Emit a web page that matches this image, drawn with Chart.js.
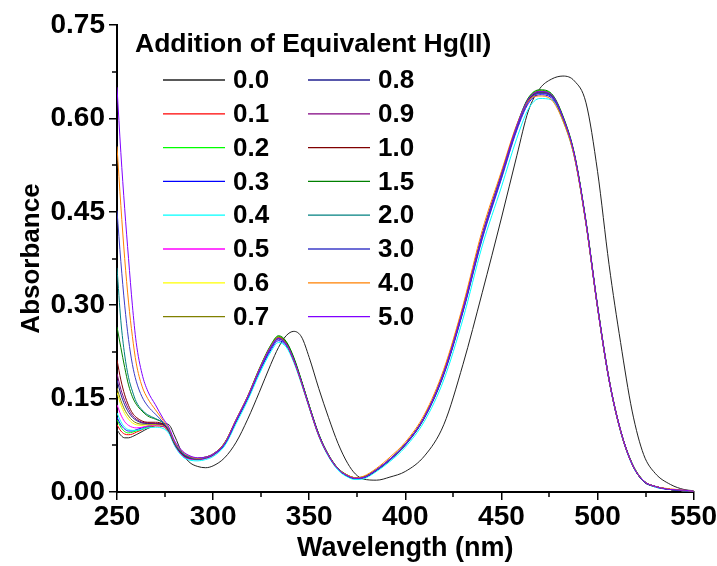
<!DOCTYPE html>
<html>
<head>
<meta charset="utf-8">
<title>Absorbance vs Wavelength</title>
<script src="https://cdn.jsdelivr.net/npm/chart.js@4.4.1/dist/chart.umd.min.js"></script>
<style>
  html, body { margin: 0; padding: 0; background: #fff; }
  #chart { display: block; }
</style>
</head>
<body>
<canvas id="chart" width="717" height="566"></canvas>
<script>
// wavelengths (nm) shared by every spectrum
const wavelengths = [250,252,254,256,258,260,263,266,270,274,277,280,284,288,292,296,300,306,312,318,324,330,334,338,342,346,350,355,360,365,370,374,378,385,392,400,410,420,430,440,450,458,464,470,476,482,488,494,500,506,512,518,524,530,538,545,550];

// equivalents of Hg(II) added
const equivalents = ['0.0','0.1','0.2','0.3','0.4','0.5','0.6','0.7','0.8','0.9','1.0','1.5','2.0','3.0','4.0','5.0'];
const lineColors = ['#222222','#ff0000','#00ff00','#0000ff','#00ffff','#ff00ff','#ffff00','#808000','#202090','#800080','#800000','#008000','#008080','#3c3cc8','#ff8000','#8000ff'];

// absorbance
const abs00 = [0.100,0.091,0.087,0.087,0.089,0.092,0.097,0.102,0.107,0.110,0.108,0.090, 0.062,0.047,0.041,0.039,0.042, 0.055,0.080,0.117,0.160,0.205,0.232,0.251,0.258,0.249,0.216, 0.166,0.120,0.078,0.046,0.029,0.021,0.019,0.024,0.033, 0.058,0.108,0.205,0.320,0.440,0.540,0.612,0.648,0.663,0.668,0.660,0.625,0.515, 0.365,0.240,0.130,0.060,0.030,0.012,0.004,0.002];
const abs01 = [0.108,0.098,0.093,0.092,0.093,0.096,0.100,0.104,0.106,0.105,0.096,0.076, 0.060,0.054,0.052,0.054,0.059, 0.077,0.114,0.152,0.195,0.233,0.248,0.239,0.213,0.177,0.138, 0.092,0.059,0.037,0.026,0.022,0.023,0.035,0.052,0.076, 0.121,0.191,0.293,0.410,0.508,0.586,0.629,0.641,0.636,0.601,0.541,0.433,0.298, 0.181,0.099,0.045,0.017,0.009,0.004,0.002,0.001];
const abs02 = [0.116,0.104,0.097,0.095,0.096,0.098,0.101,0.105,0.107,0.106,0.097,0.077, 0.060,0.054,0.053,0.055,0.060, 0.078,0.116,0.153,0.197,0.235,0.250,0.241,0.215,0.178,0.139, 0.092,0.060,0.037,0.026,0.022,0.023,0.035,0.052,0.077, 0.121,0.192,0.294,0.412,0.510,0.588,0.632,0.645,0.639,0.603,0.542,0.434,0.299, 0.181,0.099,0.046,0.018,0.009,0.004,0.002,0.001];
const abs03 = [0.120,0.108,0.101,0.098,0.098,0.100,0.103,0.106,0.107,0.106,0.097,0.076, 0.059,0.053,0.052,0.054,0.059, 0.076,0.113,0.150,0.192,0.228,0.243,0.235,0.210,0.175,0.136, 0.090,0.058,0.036,0.025,0.021,0.022,0.034,0.051,0.075, 0.119,0.188,0.289,0.406,0.503,0.581,0.624,0.638,0.633,0.598,0.538,0.431,0.296, 0.179,0.097,0.044,0.017,0.008,0.004,0.002,0.001];
const abs04 = [0.127,0.113,0.104,0.100,0.099,0.099,0.101,0.103,0.104,0.102,0.094,0.074, 0.057,0.051,0.050,0.052,0.057, 0.074,0.110,0.147,0.189,0.225,0.240,0.233,0.208,0.173,0.135, 0.089,0.057,0.035,0.024,0.020,0.021,0.033,0.049,0.072, 0.114,0.180,0.278,0.395,0.490,0.568,0.615,0.632,0.630,0.596,0.537,0.430,0.296, 0.179,0.097,0.044,0.017,0.008,0.004,0.002,0.001];
const abs05 = [0.140,0.124,0.113,0.107,0.104,0.103,0.104,0.106,0.107,0.106,0.097,0.076, 0.059,0.053,0.052,0.054,0.059, 0.077,0.114,0.151,0.194,0.231,0.246,0.237,0.211,0.176,0.137, 0.091,0.059,0.037,0.026,0.022,0.023,0.035,0.052,0.076, 0.120,0.190,0.291,0.409,0.506,0.584,0.627,0.640,0.635,0.600,0.540,0.432,0.297, 0.180,0.098,0.045,0.017,0.009,0.004,0.002,0.001];
const abs06 = [0.160,0.140,0.126,0.117,0.111,0.108,0.107,0.108,0.108,0.107,0.098,0.077, 0.060,0.054,0.053,0.055,0.060, 0.078,0.115,0.152,0.195,0.232,0.247,0.238,0.212,0.176,0.137, 0.091,0.059,0.037,0.026,0.022,0.023,0.035,0.052,0.076, 0.120,0.190,0.292,0.410,0.507,0.585,0.628,0.642,0.636,0.600,0.540,0.432,0.297, 0.180,0.098,0.045,0.017,0.009,0.004,0.002,0.001];
const abs07 = [0.167,0.147,0.132,0.122,0.115,0.111,0.109,0.109,0.109,0.108,0.098,0.077, 0.061,0.055,0.054,0.056,0.061, 0.079,0.116,0.153,0.197,0.234,0.249,0.240,0.214,0.178,0.138, 0.092,0.060,0.038,0.027,0.023,0.024,0.036,0.053,0.077, 0.121,0.191,0.294,0.412,0.509,0.587,0.631,0.644,0.638,0.602,0.541,0.433,0.298, 0.181,0.099,0.045,0.018,0.009,0.004,0.002,0.001];
const abs08 = [0.180,0.157,0.140,0.128,0.120,0.115,0.111,0.110,0.110,0.108,0.098,0.077, 0.060,0.054,0.053,0.055,0.060, 0.077,0.114,0.151,0.194,0.231,0.246,0.237,0.211,0.176,0.137, 0.091,0.059,0.037,0.026,0.022,0.023,0.035,0.052,0.076, 0.120,0.190,0.292,0.410,0.507,0.585,0.628,0.641,0.636,0.600,0.540,0.432,0.297, 0.180,0.098,0.045,0.017,0.009,0.004,0.002,0.001];
const abs09 = [0.190,0.165,0.147,0.133,0.123,0.117,0.112,0.111,0.110,0.108,0.098,0.077, 0.060,0.054,0.053,0.055,0.060, 0.078,0.115,0.152,0.196,0.232,0.247,0.238,0.212,0.177,0.137, 0.091,0.059,0.037,0.026,0.022,0.023,0.035,0.052,0.077, 0.121,0.191,0.293,0.411,0.508,0.586,0.630,0.643,0.637,0.601,0.541,0.433,0.298, 0.180,0.098,0.045,0.017,0.009,0.004,0.002,0.001];
const abs10 = [0.212,0.180,0.156,0.139,0.127,0.120,0.114,0.112,0.112,0.109,0.099,0.078, 0.061,0.055,0.053,0.055,0.060, 0.078,0.115,0.153,0.196,0.233,0.248,0.239,0.213,0.177,0.138, 0.092,0.059,0.037,0.026,0.022,0.023,0.035,0.052,0.076, 0.120,0.190,0.292,0.410,0.507,0.585,0.629,0.642,0.637,0.601,0.540,0.432,0.297, 0.180,0.098,0.045,0.017,0.009,0.004,0.002,0.001];
const abs15 = [0.265,0.232,0.200,0.172,0.153,0.141,0.130,0.122,0.117,0.111,0.099,0.078, 0.062,0.056,0.054,0.056,0.061, 0.079,0.116,0.154,0.198,0.236,0.251,0.242,0.216,0.179,0.139, 0.093,0.060,0.038,0.027,0.023,0.024,0.036,0.053,0.077, 0.121,0.192,0.294,0.413,0.511,0.589,0.633,0.646,0.640,0.604,0.543,0.435,0.300, 0.182,0.099,0.046,0.018,0.009,0.004,0.002,0.001];
const abs20 = [0.360,0.275,0.220,0.184,0.162,0.145,0.132,0.124,0.118,0.111,0.099,0.078, 0.062,0.055,0.053,0.055,0.060, 0.078,0.115,0.152,0.195,0.232,0.247,0.238,0.212,0.176,0.137, 0.091,0.059,0.037,0.026,0.022,0.023,0.035,0.052,0.076, 0.120,0.190,0.292,0.410,0.507,0.585,0.628,0.641,0.636,0.600,0.540,0.432,0.297, 0.180,0.098,0.045,0.017,0.009,0.004,0.002,0.001];
const abs30 = [0.452,0.370,0.300,0.245,0.205,0.178,0.153,0.138,0.125,0.112,0.100,0.079, 0.063,0.056,0.053,0.055,0.060, 0.077,0.114,0.151,0.194,0.231,0.246,0.237,0.211,0.176,0.137, 0.091,0.059,0.037,0.026,0.022,0.023,0.035,0.052,0.076, 0.120,0.190,0.291,0.409,0.506,0.584,0.627,0.640,0.635,0.600,0.540,0.432,0.297, 0.180,0.098,0.045,0.017,0.009,0.004,0.002,0.001];
const abs40 = [0.555,0.460,0.375,0.305,0.250,0.207,0.170,0.150,0.132,0.115,0.102,0.080, 0.065,0.057,0.054,0.056,0.061, 0.079,0.117,0.154,0.197,0.234,0.248,0.238,0.211,0.175,0.136, 0.090,0.059,0.037,0.027,0.023,0.025,0.038,0.056,0.080, 0.125,0.197,0.300,0.420,0.515,0.590,0.628,0.636,0.630,0.596,0.537,0.430,0.296, 0.180,0.098,0.045,0.018,0.009,0.005,0.003,0.001];
const abs50 = [0.650,0.545,0.455,0.375,0.300,0.240,0.190,0.162,0.140,0.118,0.104,0.082, 0.066,0.058,0.055,0.056,0.061, 0.078,0.116,0.153,0.196,0.233,0.247,0.238,0.212,0.176,0.137, 0.091,0.059,0.037,0.026,0.022,0.023,0.036,0.053,0.077, 0.121,0.192,0.294,0.413,0.510,0.588,0.631,0.643,0.638,0.602,0.541,0.433,0.298, 0.181,0.099,0.045,0.018,0.009,0.004,0.003,0.001];

const spectra = [abs00,abs01,abs02,abs03,abs04,abs05,abs06,abs07,abs08,abs09,abs10,abs15,abs20,abs30,abs40,abs50];

// axis ticks
const xTicks = [250,300,350,400,450,500,550];
const xMinor = [275,325,375,425,475,525];
const yTicks = [0.00,0.15,0.30,0.45,0.60,0.75];
const yMinor = [0.075,0.225,0.375,0.525,0.675];

const FONT = "'Liberation Sans', Arial, sans-serif";

const datasets = spectra.map((vals, i) => ({
    label: equivalents[i],
    data: vals.map((v, k) => ({ x: wavelengths[k], y: v })),
    borderColor: lineColors[i],
    backgroundColor: lineColors[i],
    borderWidth: 1,
    pointRadius: 0,
    cubicInterpolationMode: 'monotone',
    order: spectra.length - i   // last additions drawn on top, like the original
}));

// small outward minor ticks
const minorTicks = {
    id: 'minorTicks',
    afterDraw(chart) {
        const { ctx, scales: { x, y } } = chart;
        ctx.save();
        ctx.strokeStyle = '#000';
        ctx.lineWidth = 1.5;
        ctx.beginPath();
        xMinor.forEach(v => {
            const px = Math.round(x.getPixelForValue(v));
            ctx.moveTo(px, y.bottom);
            ctx.lineTo(px, y.bottom + 5);
        });
        yMinor.forEach(v => {
            const py = Math.round(y.getPixelForValue(v));
            ctx.moveTo(x.left, py);
            ctx.lineTo(x.left - 5, py);
        });
        ctx.stroke();
        ctx.restore();
    }
};

// two-column legend with title, inside the plot
const inlineLegend = {
    id: 'inlineLegend',
    afterDraw(chart) {
        const ctx = chart.ctx;
        ctx.save();
        ctx.fillStyle = '#000';
        ctx.textBaseline = 'middle';
        ctx.textAlign = 'left';
        ctx.font = 'bold 26.5px ' + FONT;
        ctx.fillText('Addition of Equivalent Hg(II)', 135, 45);

        ctx.font = 'bold 26px ' + FONT;
        chart.data.datasets.forEach((ds, i) => {
            const col = Math.floor(i / 8);
            const row = i % 8;
            const x0 = 163 + col * 145;
            const y0 = 80 + row * 33.8;
            ctx.strokeStyle = ds.borderColor;
            ctx.lineWidth = 1.3;
            ctx.beginPath();
            ctx.moveTo(x0, y0);
            ctx.lineTo(x0 + 62, y0);
            ctx.stroke();
            ctx.fillText(ds.label, x0 + 70, y0 + 1);
        });
        ctx.restore();
    }
};

new Chart(document.getElementById('chart'), {
    type: 'line',
    data: { datasets },
    options: {
        responsive: false,
        animation: false,
        events: [],
        layout: { padding: { top: 25, right: 22, bottom: 0, left: 0 } },
        plugins: {
            legend: { display: false },
            tooltip: { enabled: false }
        },
        scales: {
            x: {
                type: 'linear',
                min: 250,
                max: 550,
                afterBuildTicks: s => { s.ticks = xTicks.map(v => ({ value: v })); },
                ticks: { color: '#000', font: { family: FONT, size: 28, weight: 'bold' }, padding: 0, maxRotation: 0 },
                grid: { drawOnChartArea: false, color: '#000', lineWidth: 1.5, tickLength: 8 },
                border: { color: '#000', width: 2 },
                title: { display: true, text: 'Wavelength (nm)', color: '#000',
                         font: { family: FONT, size: 27, weight: 'bold' }, padding: { top: 0, bottom: 1 } },
                afterFit: s => { s.height = 74; }
            },
            y: {
                type: 'linear',
                min: 0,
                max: 0.75,
                afterBuildTicks: s => { s.ticks = yTicks.map(v => ({ value: v })); },
                ticks: { color: '#000', font: { family: FONT, size: 28, weight: 'bold' }, padding: 4,
                         callback: v => v.toFixed(2) },
                grid: { drawOnChartArea: false, color: '#000', lineWidth: 1.5, tickLength: 8 },
                border: { color: '#000', width: 2 },
                title: { display: true, text: 'Absorbance', color: '#000',
                         font: { family: FONT, size: 26, weight: 'bold' }, padding: { top: 16, bottom: 0 } },
                afterFit: s => { s.width = 117; }
            }
        }
    },
    plugins: [minorTicks, inlineLegend]
});
</script>
</body>
</html>
